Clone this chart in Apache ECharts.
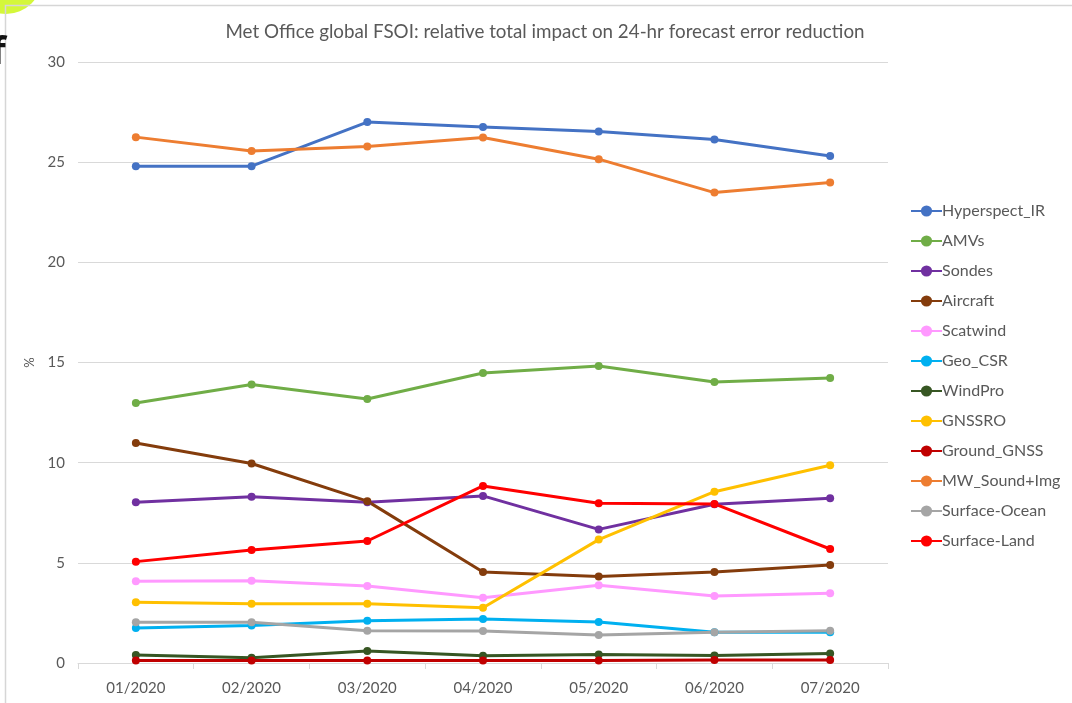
<!DOCTYPE html>
<html>
<head>
<meta charset="utf-8">
<script src="https://cdn.jsdelivr.net/npm/echarts@6/dist/echarts.min.js"></script>
<style>
  html, body { margin: 0; padding: 0; background: #fff; }
  #chart { width: 1072px; height: 703px; }
</style>
</head>
<body>
<div id="chart"></div>
<script>
// Monthly categories
const months = ['01/2020', '02/2020', '03/2020', '04/2020', '05/2020', '06/2020', '07/2020'];

// Relative total impact (%) per observation type
const hyperspectIR = [24.8, 24.8, 27.0, 26.76, 26.53, 26.13, 25.31];
const amvs         = [12.98, 13.9, 13.18, 14.48, 14.83, 14.03, 14.23];
const sondes       = [8.02, 8.3, 8.02, 8.34, 6.67, 7.92, 8.22];
const aircraft     = [10.98, 9.96, 8.08, 4.54, 4.32, 4.54, 4.89];
const scatwind     = [4.08, 4.1, 3.84, 3.26, 3.88, 3.34, 3.48];
const geoCSR       = [1.75, 1.87, 2.11, 2.2, 2.05, 1.53, 1.53];
const windPro      = [0.4, 0.26, 0.6, 0.36, 0.43, 0.38, 0.48];
const gnssro       = [3.03, 2.96, 2.96, 2.76, 6.16, 8.55, 9.87];
const groundGNSS   = [0.12, 0.12, 0.12, 0.12, 0.13, 0.15, 0.15];
const mwSoundImg   = [26.25, 25.56, 25.78, 26.23, 25.15, 23.48, 23.98];
const surfaceOcean = [2.03, 2.03, 1.61, 1.6, 1.4, 1.53, 1.61];
const surfaceLand  = [5.06, 5.64, 6.09, 8.84, 7.97, 7.94, 5.69];

// Y axis range and step
const yMin = 0, yMax = 30, yStep = 5;

const seriesDefs = [
  ['Hyperspect_IR', hyperspectIR, '#4472C4'],
  ['AMVs', amvs, '#70AD47'],
  ['Sondes', sondes, '#7030A0'],
  ['Aircraft', aircraft, '#843C0C'],
  ['Scatwind', scatwind, '#FF99FF'],
  ['Geo_CSR', geoCSR, '#00B0F0'],
  ['WindPro', windPro, '#375623'],
  ['GNSSRO', gnssro, '#FFC000'],
  ['Ground_GNSS', groundGNSS, '#C00000'],
  ['MW_Sound+Img', mwSoundImg, '#ED7D31'],
  ['Surface-Ocean', surfaceOcean, '#A5A5A5'],
  ['Surface-Land', surfaceLand, '#FF0000']
];

const FONT = 'Lato, "Open Sans", sans-serif';
const chart = echarts.init(document.getElementById('chart'), null, { renderer: 'canvas' });

chart.setOption({
  backgroundColor: '#ffffff',
  animation: false,
  title: {
    text: 'Met Office global FSOI: relative total impact on 24-hr forecast error reduction',
    left: 540, top: 17, textAlign: 'center',
    textStyle: { fontFamily: FONT, fontSize: 18.8, fontWeight: 'normal', color: '#595959' }
  },
  legend: {
    orient: 'vertical',
    left: 905, top: 198,
    itemWidth: 31, itemHeight: 14, itemGap: 14,
    textStyle: { fontFamily: FONT, fontSize: 16, color: '#595959', padding: [0, 0, 0, -5] },
    data: seriesDefs.map(d => d[0])
  },
  grid: { left: 78, right: 184, top: 62, bottom: 40 },
  xAxis: {
    type: 'category',
    data: months,
    boundaryGap: true,
    axisLine: { lineStyle: { color: '#d9d9d9', width: 1 } },
    axisTick: { show: true, length: 6, lineStyle: { color: '#d9d9d9' } },
    axisLabel: { fontFamily: FONT, fontSize: 15, color: '#595959', margin: 18 }
  },
  yAxis: {
    type: 'value',
    min: yMin, max: yMax, interval: yStep,
    name: '%',
    nameLocation: 'middle',
    nameGap: 39,
    nameTextStyle: { fontFamily: FONT, fontSize: 13, color: '#595959' },
    axisLine: { show: false },
    axisTick: { show: false },
    axisLabel: { fontFamily: FONT, fontSize: 15, color: '#595959', margin: 13 },
    splitLine: { lineStyle: { color: '#d9d9d9', width: 1 } }
  },
  series: seriesDefs.map(([name, values, color]) => ({
    name,
    type: 'line',
    data: values,
    symbol: 'circle',
    symbolSize: 8,
    lineStyle: { width: 3, color },
    itemStyle: { color },
    emphasis: { disabled: true }
  })),
  graphic: [
    // chart-area frame
    { type: 'rect', shape: { x: 5.5, y: 5.5, width: 1080, height: 720 },
      style: { fill: 'none', stroke: '#d6d6d6', lineWidth: 1.5 }, silent: true, z: -1 },
    // corner highlight behind frame
    { type: 'circle', shape: { cx: 6, cy: -22, r: 36 },
      style: { fill: '#d4f73a' }, silent: true, z: -2 },
    // clipped letter from the page behind
    { type: 'text', x: -9, y: 34,
      style: { text: 'f', font: 'bold 38px "Open Sans", sans-serif', fill: '#111' }, silent: true }
  ]
});
</script>
</body>
</html>
